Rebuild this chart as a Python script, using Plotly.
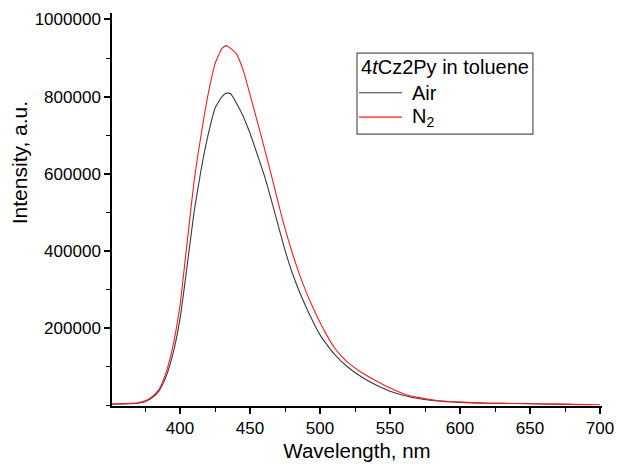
import plotly.graph_objects as go

wl_air = [351, 360, 370, 375, 380, 385, 390, 395, 400, 405, 410, 415, 420, 425, 430, 433, 436,
          440, 445, 450, 455, 460, 465, 470, 475, 480, 485, 490, 495, 500, 505, 510, 520, 530,
          540, 550, 560, 570, 580, 590, 600, 620, 640, 660, 679]
int_air = [3000, 4000, 6000, 10000, 20000, 38000, 75000, 135000, 225000, 360000, 500000, 610000,
           700000, 770000, 800000, 809000, 808000, 785000, 750000, 705000, 652000, 598000, 535000,
           468000, 402000, 345000, 297000, 255000, 217000, 183000, 157000, 134000, 99000, 73000,
           53000, 37000, 26000, 18000, 13000, 10000, 8000, 6000, 5000, 4000, 3000]

wl_n2 = [351, 360, 370, 375, 380, 385, 390, 395, 400, 405, 410, 415, 420, 425, 430, 433, 436,
         440, 445, 450, 455, 460, 465, 470, 475, 480, 485, 490, 495, 500, 505, 510, 515, 520, 530,
         540, 550, 560, 570, 580, 590, 600, 620, 640, 660, 680, 700]
int_n2 = [4000, 5000, 7000, 12000, 23000, 42000, 85000, 155000, 260000, 420000, 580000, 700000,
          805000, 885000, 925000, 932000, 925000, 912000, 870000, 805000, 738000, 670000, 600000,
          527000, 458000, 397000, 343000, 295000, 253000, 215000, 181000, 151000, 129000, 111000, 85000,
          64000, 45000, 30000, 21000, 15000, 11000, 9000, 6000, 5000, 4000, 3000, 2000]

x_ticks = [400, 450, 500, 550, 600, 650, 700]
y_ticks = [200000, 400000, 600000, 800000, 1000000]
y_tick_text = [str(v) for v in y_ticks]

legend_title = "4<i>t</i>Cz2Py in toluene"
series_names = ["Air", "N<sub>2</sub>"]
series_colors = ["#3a3a3a", "#ff1a1a"]

FONT = "Arial, Liberation Sans, sans-serif"

fig = go.Figure()
for wl, inten, name, col in [(wl_air, int_air, series_names[0], series_colors[0]),
                             (wl_n2, int_n2, series_names[1], series_colors[1])]:
    fig.add_trace(go.Scatter(x=wl, y=inten, mode="lines", name=name, showlegend=False,
                             line=dict(color=col, width=1.1, shape="spline", smoothing=0.5)))

# Legend box (drawn manually to match the original framed legend)
shapes = [dict(type="rect", xref="paper", yref="paper", x0=0.5, x1=0.859, y0=0.692, y1=0.898,
               line=dict(color="#555555", width=1.2), fillcolor="white", layer="above")]
annotations = [dict(text=legend_title, xref="paper", yref="paper", x=0.504, y=0.862,
                    xanchor="left", yanchor="middle", showarrow=False,
                    font=dict(size=20, family=FONT, color="black"))]
row_y = [0.797, 0.735]
for name, col, ry in zip(series_names, series_colors, row_y):
    shapes.append(dict(type="line", xref="paper", yref="paper", x0=0.504, x1=0.592, y0=ry, y1=ry,
                       line=dict(color=col, width=1.1), layer="above"))
    annotations.append(dict(text=name, xref="paper", yref="paper", x=0.608, y=ry,
                            xanchor="left", yanchor="middle", showarrow=False,
                            font=dict(size=20, family=FONT, color="black")))

annotations.append(dict(text="Intensity, a.u.", xref="paper", yref="paper", x=-0.19, y=0.62,
                        xanchor="center", yanchor="middle", textangle=-90, showarrow=False,
                        font=dict(size=21, family=FONT, color="black")))

fig.update_layout(
    width=617, height=470,
    margin=dict(l=112, r=15, t=13, b=64, autoexpand=False),
    paper_bgcolor="white", plot_bgcolor="white",
    font=dict(family=FONT, color="black"),
    showlegend=False,
    xaxis=dict(range=[351.4, 701.4], tickmode="array", tickvals=x_ticks, automargin=False,
               showline=True, linecolor="black", linewidth=1.5, mirror=False,
               ticks="outside", ticklen=6, tickwidth=1.5, tickcolor="black",
               minor=dict(dtick=25, tick0=375, ticks="outside", ticklen=4, tickwidth=1.3, tickcolor="black"),
               showgrid=False, zeroline=False,
               tickfont=dict(size=17, family=FONT),
               title=dict(text="Wavelength, nm", font=dict(size=20.5, family=FONT), standoff=6)),
    yaxis=dict(range=[-1300, 1016600], tickmode="array", tickvals=y_ticks, ticktext=y_tick_text,
               automargin=False,
               showline=True, linecolor="black", linewidth=1.5, mirror=False,
               ticks="outside", ticklen=6, tickwidth=1.5, tickcolor="black",
               minor=dict(dtick=100000, tick0=100000, ticks="outside", ticklen=4, tickwidth=1.3, tickcolor="black"),
               showgrid=False, zeroline=False,
               tickfont=dict(size=17, family=FONT)),
    shapes=shapes,
    annotations=annotations,
)

fig.write_html("out.html")
